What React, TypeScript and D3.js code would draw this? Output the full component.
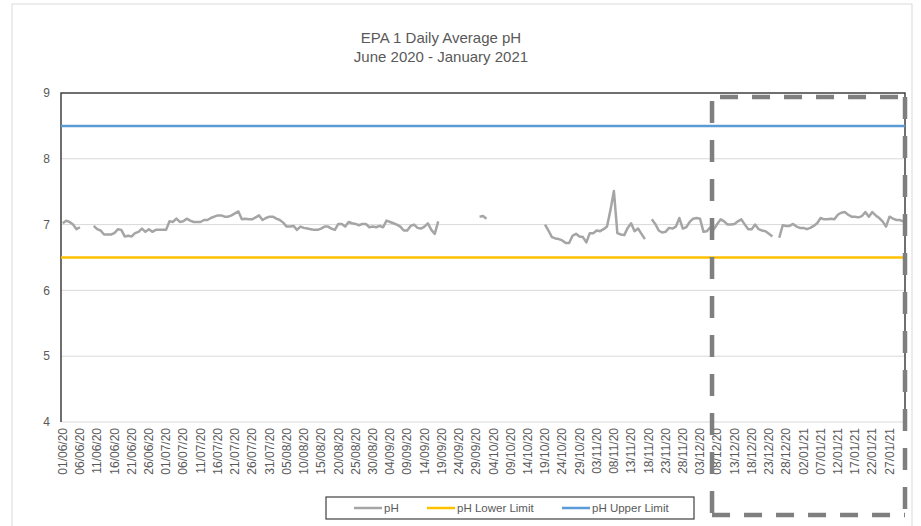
import React from 'react';
import * as d3 from 'd3';

// categories: one per day, 01/06/20 .. 31/01/21
const startDate = new Date(2020, 5, 1);
const endDate = new Date(2021, 0, 31);
const dates = d3.timeDay.range(startDate, d3.timeDay.offset(endDate, 1));
const fmtDay = d3.timeFormat('%d/%m/%y');
const categories = dates.map(fmtDay);

// daily average pH (null = no data)
const phValues: (number | null)[] = [
  7.02, 7.06, 7.04, 7.0, 6.93, 6.96, null, null, null, 6.98,
  6.93, 6.91, 6.85, 6.85, 6.85, 6.87, 6.93, 6.92, 6.82, 6.83,
  6.82, 6.87, 6.89, 6.94, 6.89, 6.93, 6.89, 6.92, 6.92, 6.92,
  6.92, 7.05, 7.04, 7.09, 7.04, 7.05, 7.09, 7.06, 7.04, 7.04,
  7.04, 7.07, 7.07, 7.1, 7.12, 7.14, 7.14, 7.12, 7.12, 7.14,
  7.17, 7.2, 7.08, 7.09, 7.08, 7.08, 7.11, 7.14, 7.07, 7.1,
  7.12, 7.12, 7.09, 7.07, 7.03, 6.97, 6.97, 6.98, 6.92, 6.97,
  6.95, 6.94, 6.93, 6.92, 6.92, 6.94, 6.97, 6.97, 6.94, 6.92,
  7.01, 7.01, 6.97, 7.04, 7.02, 7.01, 6.99, 7.01, 7.01, 6.96,
  6.97, 6.96, 6.98, 6.96, 7.06, 7.04, 7.02, 7.0, 6.97, 6.91,
  6.91, 6.98, 7.0, 6.95, 6.94, 6.97, 7.02, 6.92, 6.86, 7.05,
  null, null, null, null, null, null, null, null, null, null,
  null, 7.12, 7.13, 7.09, null, null, null, null, null, null,
  null, null, null, null, null, null, null, null, null, null,
  7.0, 6.91, 6.81, 6.79, 6.78, 6.76, 6.72, 6.72, 6.83, 6.86,
  6.82, 6.81, 6.73, 6.87, 6.87, 6.91, 6.9, 6.93, 6.97, 7.22,
  7.51, 6.87, 6.85, 6.84, 6.95, 7.02, 6.9, 6.94, 6.86, 6.78,
  null, 7.08, 7.01, 6.91, 6.88, 6.89, 6.95, 6.94, 6.97, 7.1,
  6.94, 6.96, 7.04, 7.09, 7.1, 7.09, 6.89, 6.9, 6.96, 6.93,
  7.01, 7.08, 7.05, 7.0, 7.0, 7.01, 7.05, 7.08, 7.0, 6.93,
  6.93, 7.0, 6.93, 6.91, 6.9, 6.86, 6.82, null, 6.8, 6.99,
  6.98, 6.98, 7.01, 6.97, 6.95, 6.95, 6.93, 6.95, 6.98, 7.02,
  7.1, 7.08, 7.08, 7.09, 7.08, 7.15, 7.18, 7.19, 7.15, 7.12,
  7.12, 7.11, 7.13, 7.19, 7.12, 7.19, 7.14, 7.1, 7.05, 6.97,
  7.12, 7.09, 7.07, 7.07, 7.05,
];

const lowerLimit = 6.5;
const upperLimit = 8.5;
const yTicks = [4, 5, 6, 7, 8, 9];
const legendLabels = ['pH', 'pH Lower Limit', 'pH Upper Limit'];
const highlightFrom = '08/12/20';

const W = 921;
const H = 526;
const plot = { left: 61, right: 905, top: 93, bottom: 422 };
const colors = { ph: '#A5A5A5', lower: '#FFC000', upper: '#5B9BD5' };
const font = "'Liberation Sans', Arial, sans-serif";
const textColor = '#595959';

export default function App() {
  const x = d3.scaleBand<string>().domain(categories).range([plot.left, plot.right]);
  const cx = (c: string) => (x(c) as number) + x.bandwidth() / 2;
  const y = d3.scaleLinear().domain([4, 9]).range([plot.bottom, plot.top]);

  const line = d3
    .line<number | null>()
    .defined((v) => v != null)
    .x((_, i) => cx(categories[i]))
    .y((v) => y(v as number));

  const xTickCats = categories.filter((_, i) => i % 5 === 0);

  // dashed highlight box (drawn through the 08/12/20 label)
  const boxLeft = (x(highlightFrom) as number) - 3.5;
  const boxRight = plot.right;
  const boxTop = 97;
  const boxBottom = 515;

  const legendX = [354, 427, 562];
  const legendColors = [colors.ph, colors.lower, colors.upper];

  return (
    <svg
      width={W}
      height={H}
      style={{ position: 'absolute', left: 0, top: 0, background: '#fff' }}
      fontFamily={font}
    >
      <rect x={12} y={4} width={900} height={540} fill="#fff" stroke="#D9D9D9" />

      <text x={441} y={43} textAnchor="middle" fontSize={15} fill={textColor}>
        EPA 1 Daily Average pH
      </text>
      <text x={441} y={62} textAnchor="middle" fontSize={15} fill={textColor}>
        June 2020 - January 2021
      </text>

      {yTicks.map((t) => (
        <g key={t}>
          {t > 4 && t < 9 && (
            <line x1={plot.left} x2={plot.right} y1={y(t)} y2={y(t)} stroke="#D9D9D9" strokeWidth={1} />
          )}
          <text x={50} y={y(t)} dy="0.35em" textAnchor="end" fontSize={12} fill={textColor}>
            {t}
          </text>
        </g>
      ))}

      <line x1={plot.left} x2={plot.right} y1={plot.bottom} y2={plot.bottom} stroke="#D9D9D9" strokeWidth={1} />
      <path
        d={`M${plot.left},${plot.bottom}V${plot.top}H${plot.right}V${plot.bottom}`}
        fill="none"
        stroke="#404040"
        strokeWidth={1.5}
      />

      {xTickCats.map((c) => (
        <text
          key={c}
          transform={`translate(${cx(c)},428) rotate(-90)`}
          dy="0.35em"
          textAnchor="end"
          fontSize={12}
          fill={textColor}
        >
          {c}
        </text>
      ))}

      <line x1={plot.left} x2={plot.right} y1={y(upperLimit)} y2={y(upperLimit)} stroke={colors.upper} strokeWidth={2.5} />
      <line x1={plot.left} x2={plot.right} y1={y(lowerLimit)} y2={y(lowerLimit)} stroke={colors.lower} strokeWidth={2.5} />
      <path d={line(phValues) || ''} fill="none" stroke={colors.ph} strokeWidth={2.5} strokeLinejoin="round" />

      <g stroke="#7F7F7F" strokeWidth={4.5} fill="none">
        <line x1={boxLeft} x2={boxRight} y1={boxTop} y2={boxTop} strokeDasharray="18 14" strokeDashoffset={-8} />
        <line x1={boxLeft} x2={boxRight} y1={boxBottom} y2={boxBottom} strokeDasharray="18 14" />
        <line x1={boxLeft} x2={boxLeft} y1={boxTop} y2={boxBottom} strokeDasharray="22 17" strokeDashoffset={-4} />
        <line x1={boxRight} x2={boxRight} y1={boxTop} y2={boxBottom} strokeDasharray="22 17" />
      </g>

      <rect x={326} y={497} width={368} height={22} fill="#fff" stroke="#404040" strokeWidth={1.2} />
      {legendLabels.map((lab, i) => (
        <g key={lab}>
          <line x1={legendX[i]} x2={legendX[i] + 28} y1={508} y2={508} stroke={legendColors[i]} strokeWidth={2.5} />
          <text x={legendX[i] + 30} y={508} dy="0.35em" fontSize={11.5} fill={textColor}>
            {lab}
          </text>
        </g>
      ))}
    </svg>
  );
}
